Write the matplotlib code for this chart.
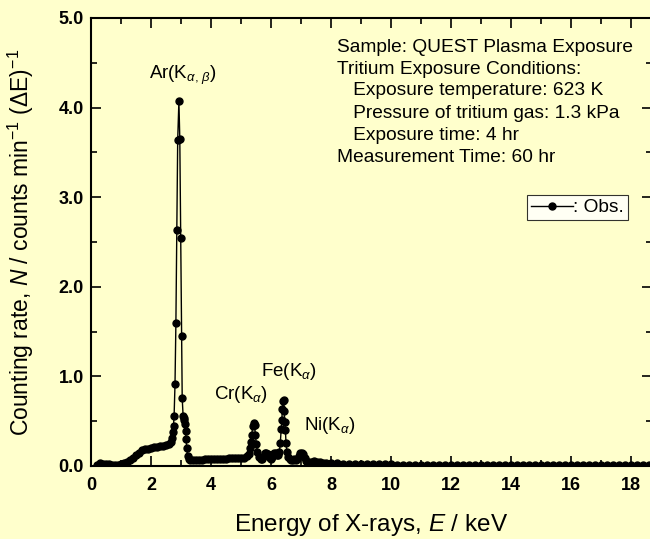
import matplotlib
matplotlib.use("Agg")
import matplotlib.pyplot as plt
from matplotlib.ticker import MultipleLocator, FormatStrFormatter

plt.rcParams['font.family'] = ['Liberation Sans', 'DejaVu Sans']
plt.rcParams['mathtext.fontset'] = 'custom'
plt.rcParams['mathtext.rm'] = 'Liberation Sans'
plt.rcParams['mathtext.it'] = 'Liberation Sans:italic'
plt.rcParams['mathtext.bf'] = 'Liberation Sans:bold'

BG = '#FFFFCC'

energy = [
    0.20, 0.30, 0.40, 0.50, 0.60, 0.70, 0.80, 0.90, 1.00, 1.10,
    1.20, 1.30, 1.40, 1.50, 1.60, 1.70, 1.80, 1.90, 2.00, 2.10,
    2.20, 2.30, 2.40, 2.50, 2.60, 2.65,
    2.70, 2.73, 2.75, 2.77, 2.80, 2.83, 2.86, 2.89, 2.93, 2.96,
    2.99, 3.02, 3.04, 3.07, 3.09, 3.11, 3.13, 3.15, 3.17, 3.19,
    3.22, 3.26, 3.30,
    3.40, 3.50, 3.60, 3.70, 3.80, 3.90, 4.00, 4.10, 4.20, 4.30,
    4.40, 4.50, 4.60, 4.70, 4.80, 4.90, 5.00, 5.10, 5.20,
    5.25, 5.30, 5.33, 5.36, 5.39, 5.42, 5.45, 5.48, 5.51, 5.55,
    5.60, 5.65, 5.70, 5.75, 5.80, 5.85, 5.90, 5.95, 6.00, 6.05,
    6.10, 6.15, 6.20, 6.25,
    6.28, 6.31, 6.34, 6.36, 6.38, 6.40, 6.42, 6.44, 6.46, 6.48,
    6.50, 6.53, 6.57, 6.62, 6.67, 6.72, 6.77, 6.82, 6.87, 6.92,
    6.97, 7.02, 7.07, 7.12, 7.17, 7.25, 7.35, 7.45, 7.55, 7.65,
    7.75, 7.85,
    8.0, 8.2, 8.4, 8.6, 8.8, 9.0, 9.2, 9.4, 9.6, 9.8,
    10.0, 10.2, 10.4, 10.6, 10.8, 11.0, 11.2, 11.4, 11.6, 11.8,
    12.0, 12.2, 12.4, 12.6, 12.8, 13.0, 13.2, 13.4, 13.6, 13.8,
    14.0, 14.2, 14.4, 14.6, 14.8, 15.0, 15.2, 15.4, 15.6, 15.8,
    16.0, 16.2, 16.4, 16.6, 16.8, 17.0, 17.2, 17.4, 17.6, 17.8,
    18.0, 18.2, 18.4, 18.6, 18.8,
]
rate = [
    0.01, 0.03, 0.02, 0.02, 0.02, 0.01, 0.01, 0.01, 0.02, 0.03,
    0.05, 0.07, 0.09, 0.12, 0.15, 0.18, 0.19, 0.19, 0.20, 0.21,
    0.21, 0.22, 0.22, 0.23, 0.24, 0.27,
    0.31, 0.38, 0.45, 0.56, 0.91, 1.60, 2.63, 3.64, 4.07, 3.65,
    2.54, 1.45, 0.76, 0.56, 0.54, 0.51, 0.47, 0.39, 0.30, 0.20,
    0.11, 0.08, 0.07,
    0.07, 0.07, 0.07, 0.07, 0.075, 0.075, 0.075, 0.08, 0.08, 0.08,
    0.08, 0.08, 0.085, 0.085, 0.085, 0.09, 0.09, 0.09, 0.11,
    0.13, 0.20, 0.27, 0.35, 0.45, 0.48, 0.46, 0.35, 0.24, 0.16,
    0.10, 0.08, 0.08, 0.11, 0.14, 0.15, 0.13, 0.09, 0.08, 0.10,
    0.14, 0.15, 0.12, 0.12,
    0.16, 0.26, 0.41, 0.51, 0.64, 0.73, 0.74, 0.61, 0.49, 0.40,
    0.26, 0.16, 0.10, 0.08, 0.07, 0.07, 0.08, 0.07, 0.08, 0.11,
    0.14, 0.15, 0.13, 0.09, 0.06, 0.05, 0.05, 0.06, 0.05, 0.04,
    0.03, 0.03,
    0.03, 0.03, 0.025, 0.025, 0.025, 0.02, 0.02, 0.02, 0.02, 0.02,
    0.02, 0.015, 0.015, 0.015, 0.015, 0.015, 0.015, 0.015, 0.015, 0.015,
    0.012, 0.012, 0.012, 0.012, 0.012, 0.01, 0.01, 0.01, 0.01, 0.01,
    0.01, 0.01, 0.01, 0.01, 0.01, 0.01, 0.01, 0.01, 0.01, 0.01,
    0.01, 0.01, 0.01, 0.01, 0.01, 0.01, 0.01, 0.01, 0.01, 0.01,
    0.01, 0.01, 0.01, 0.01, 0.01,
]

peak_labels = [r'Ar(K$_{\alpha,\,\beta}$)', r'Cr(K$_{\alpha}$)', r'Fe(K$_{\alpha}$)', r'Ni(K$_{\alpha}$)']
peak_label_xy = [(3.05, 4.36), (5.0, 0.80), (6.6, 1.05), (7.95, 0.45)]

info_lines = [
    'Sample: QUEST Plasma Exposure',
    'Tritium Exposure Conditions:',
    '   Exposure temperature: 623 K',
    '   Pressure of tritium gas: 1.3 kPa',
    '   Exposure time: 4 hr',
    'Measurement Time: 60 hr',
]

fig = plt.figure(figsize=(6.5, 5.39), dpi=100, facecolor=BG)
ax = fig.add_axes([91 / 650, 1 - 466 / 539, (652 - 91) / 650, (466 - 18) / 539])
ax.set_facecolor(BG)

ax.plot(energy, rate, '-o', color='black', lw=1.0, markersize=5, label=': Obs.')

ax.set_xlim(0, 18.7)
ax.set_ylim(0, 5.0)
ax.xaxis.set_major_locator(MultipleLocator(2))
ax.xaxis.set_minor_locator(MultipleLocator(1))
ax.yaxis.set_major_locator(MultipleLocator(1))
ax.yaxis.set_minor_locator(MultipleLocator(0.5))
ax.yaxis.set_major_formatter(FormatStrFormatter('%.1f'))
ax.tick_params(which='both', direction='in', top=True, right=True, width=1.2)
ax.tick_params(which='major', length=7, labelsize=13, pad=5)
ax.tick_params(axis='x', which='major', pad=8)
ax.tick_params(which='minor', length=4)
for lab in ax.get_xticklabels() + ax.get_yticklabels():
    lab.set_fontweight('bold')
for s in ax.spines.values():
    s.set_linewidth(1.5)

ax.set_xlabel(r'Energy of X-rays, $\mathit{E}$ / keV', fontsize=17.5, labelpad=13)
ax.set_ylabel(r'Counting rate, $\mathit{N}$ / counts min$^{-1}$ ($\Delta$E)$^{-1}$',
              fontsize=16.5, labelpad=16)

for txt, (x, y) in zip(peak_labels, peak_label_xy):
    ax.text(x, y, txt, fontsize=13.5, ha='center', va='center')

for i, line in enumerate(info_lines):
    fig.text(337 / 650, 1 - (47 + 22 * i) / 539, line, fontsize=13.8, ha='left', va='center')

leg = ax.legend(loc='upper left', bbox_to_anchor=(527 / 650, 1 - 195 / 539),
                bbox_transform=fig.transFigure, frameon=True, fancybox=False,
                handlelength=2.2, handletextpad=0.0, borderpad=0.2,
                borderaxespad=0, fontsize=13.8)
leg.get_frame().set_edgecolor('black')
leg.get_frame().set_linewidth(0.8)
leg.get_frame().set_facecolor('white')

fig.savefig('out.png', dpi=100, facecolor=BG)
